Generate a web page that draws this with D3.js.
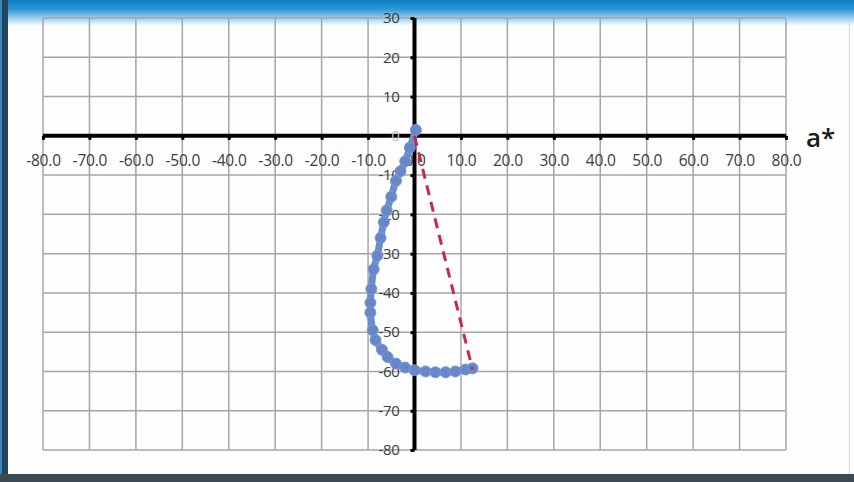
<!DOCTYPE html>
<html><head><meta charset="utf-8">
<script src="https://cdn.jsdelivr.net/npm/d3@7"></script>
<style>html,body{margin:0;padding:0;background:#fff;}svg{display:block;}</style>
</head><body>
<svg id="c" width="854" height="482"></svg>
<script>
// Data
const aVals = [0.3, -1.0, -2.0, -3.0, -4.0, -5.0, -6.0, -6.6, -7.3, -8.0, -8.8, -9.3, -9.5, -9.5, -9.0, -8.4, -7.0, -5.8, -4.0, -2.0, 0.0, 2.4, 4.5, 6.7, 8.8, 11.0, 12.5];
const bVals = [1.5, -3.0, -6.5, -9.0, -11.5, -15.5, -19.0, -22.0, -26.0, -30.5, -34.0, -39.0, -42.5, -45.0, -49.5, -52.0, -54.5, -56.3, -58.0, -59.0, -59.7, -60.0, -60.2, -60.2, -60.0, -59.5, -59.2];
const hueLineA = [0, 12.5];
const hueLineB = [0, -59.5];
const xTicks = [-80, -70, -60, -50, -40, -30, -20, -10, 0, 10, 20, 30, 40, 50, 60, 70, 80];
const yTicks = [30, 20, 10, 0, -10, -20, -30, -40, -50, -60, -70, -80];
const axisLabel = "a*";

const svg = d3.select("#c");
const defs = svg.append("defs");
const g1 = defs.append("linearGradient").attr("id","top").attr("x1",0).attr("y1",0).attr("x2",0).attr("y2",1);
g1.append("stop").attr("offset","0").attr("stop-color","#0a7dc2");
g1.append("stop").attr("offset","0.35").attr("stop-color","#2b97d6");
g1.append("stop").attr("offset","1").attr("stop-color","#ffffff");

// frame
svg.append("rect").attr("x",0).attr("y",0).attr("width",854).attr("height",482).attr("fill","#fdfdfd");
svg.append("rect").attr("x",0).attr("y",0).attr("width",854).attr("height",26).attr("fill","url(#top)");
svg.append("rect").attr("x",0).attr("y",0).attr("width",2).attr("height",482).attr("fill","#3a86b8");
svg.append("rect").attr("x",2).attr("y",0).attr("width",6).attr("height",482).attr("fill","#23445e");
svg.append("rect").attr("x",0).attr("y",474).attr("width",854).attr("height",8).attr("fill","#3c4a54");
svg.append("rect").attr("x",849).attr("y",20).attr("width",1).attr("height",454).attr("fill","#d8d8d8");

const x = d3.scaleLinear().domain([-80, 80]).range([43, 786]);
const y = d3.scaleLinear().domain([-80, 30]).range([450, 18]);
const hy = s => String(s).replace("\u2212", "-");

// grid
svg.append("g").selectAll("line").data(xTicks).join("line")
  .attr("x1", d => x(d)).attr("x2", d => x(d)).attr("y1", y(30)).attr("y2", y(-80))
  .attr("stroke", "#a6a6a6").attr("stroke-width", 1.5);
svg.append("g").selectAll("line").data(yTicks).join("line")
  .attr("y1", d => y(d)).attr("y2", d => y(d)).attr("x1", x(-80)).attr("x2", x(80))
  .attr("stroke", "#a6a6a6").attr("stroke-width", 1.5);

// axes
const xAxis = d3.axisBottom(x).tickValues(xTicks).tickSize(4).tickPadding(15)
  .tickFormat(d => hy(d3.format(".1f")(d)));
const gx = svg.append("g").attr("transform", `translate(0,${y(0)})`).call(xAxis);
gx.select(".domain").attr("stroke", "#000").attr("stroke-width", 4).attr("d", `M${x(-80)},0H${x(80)}`);
gx.selectAll(".tick line").attr("stroke", "#000").attr("stroke-width", 3);
gx.selectAll(".tick text").attr("font-family", "Open Sans").attr("font-size", 15.5).attr("fill", "#3c3c3c")
  .attr("letter-spacing", "-0.2px");

const yAxis = d3.axisLeft(y).tickValues(yTicks).tickSize(4).tickPadding(11)
  .tickFormat(d => hy(d3.format("d")(d)));
const gy = svg.append("g").attr("transform", `translate(${x(0)},0)`).call(yAxis);
gy.select(".domain").attr("stroke", "#000").attr("stroke-width", 4).attr("d", `M0,${y(30)}V${y(-80)}`);
gy.selectAll(".tick line").attr("stroke", "#000").attr("stroke-width", 3);
gy.selectAll(".tick text").attr("font-family", "Open Sans").attr("font-size", 15).attr("fill", "#3c3c3c")
  .attr("letter-spacing", "-0.3px");
gy.selectAll(".tick").filter(d => d === 0).select("text").attr("fill", "#c4c4c4");

svg.append("text").attr("x", 806).attr("y", 147).attr("font-family", "Open Sans")
  .attr("font-size", 26).attr("font-weight", 600).attr("fill", "#1a1a1a").text(axisLabel);

// curve
const pts = aVals.map((a, i) => [a, bVals[i]]);
svg.append("path").datum(pts)
  .attr("d", d3.line().x(d => x(d[0])).y(d => y(d[1])).curve(d3.curveCatmullRom))
  .attr("fill", "none").attr("stroke", "#6b8ccc").attr("stroke-width", 7).attr("stroke-linecap","round");
svg.append("g").selectAll("circle").data(pts).join("circle")
  .attr("cx", d => x(d[0])).attr("cy", d => y(d[1])).attr("r", 5.5)
  .attr("fill", "#6887c8").attr("stroke", "#7a98d2").attr("stroke-width", 1);

// hue line
svg.append("path").datum(hueLineA.map((a, i) => [a, hueLineB[i]]))
  .attr("d", d3.line().x(d => x(d[0])).y(d => y(d[1])))
  .attr("fill", "none").attr("stroke", "#c8284a").attr("stroke-width", 3).attr("stroke-dasharray", "10,7");
</script>
</body></html>
